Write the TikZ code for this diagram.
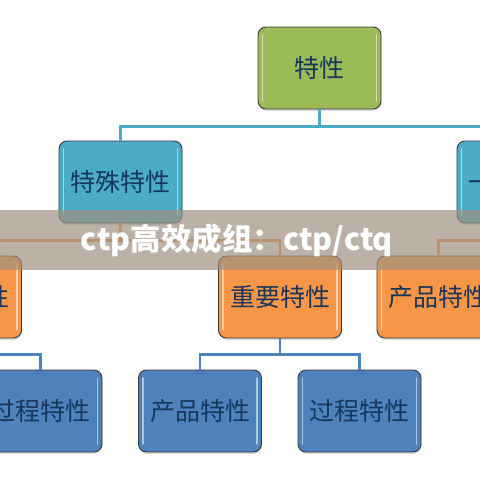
\documentclass[tikz,border=0pt]{standalone}
\usepackage{fontspec}
\newfontfamily\cjk{Noto Sans CJK SC}
\usetikzlibrary{shadows}
\definecolor{cgreen}{HTML}{9BBB59}
\definecolor{ccyan}{HTML}{4BACC6}
\definecolor{corange}{HTML}{F79646}
\definecolor{cblue}{HTML}{4F81BD}
\definecolor{cline}{HTML}{3A3A3A}
\definecolor{cnavy}{HTML}{17375E}
\definecolor{cbanner}{RGB}{160,145,130}
\tikzset{
  box/.style={draw=cline, line width=0.9pt, rounded corners=8pt,
    minimum width=123pt, minimum height=82pt, inner sep=0pt,
    text=cnavy, font=\cjk\fontsize{25}{28}\selectfont,
    drop shadow={opacity=0.25, shadow xshift=0.5pt, shadow yshift=-2pt},
    path picture={
      \draw[white, opacity=0.55, line width=1.6pt, line cap=round]
        ([shift={(4.5pt,-8pt)}]path picture bounding box.north west) --
        ([shift={(4.5pt,8pt)}]path picture bounding box.south west);
      \draw[white, opacity=0.55, line width=1.6pt, line cap=round]
        ([shift={(-4.5pt,-8pt)}]path picture bounding box.north east) --
        ([shift={(-4.5pt,8pt)}]path picture bounding box.south east);
    }},
  gbox/.style={box, fill=cgreen},
  cbox/.style={box, fill=ccyan},
  obox/.style={box, fill=corange},
  bbox/.style={box, fill=cblue},
  conn/.style={line width=2.2pt},
  bannertext/.style={text=white, font=\cjk\bfseries\fontsize{30.5}{33}\selectfont, inner sep=0pt}
}
\begin{document}
\begin{tikzpicture}[x=1pt,y=-1pt]
\useasboundingbox (0,0) rectangle (480,480);
\clip (0,0) rectangle (480,480);
\fill[white] (0,0) rectangle (480,480);

% coordinates for off-canvas ends
\coordinate (l3d) at (598,256);
\coordinate (l4x) at (-120,370);

% nodes
\node[gbox] (top) at (319.5,68) {特性};
\node[cbox] (l2a) at (120.5,182) {特殊特性};
\node[cbox] (l2b) at (518.5,182) {一般特性};
\node[obox] (l3a) at (-40,297) {关键特性};
\node[obox] (l3b) at (280,297) {重要特性};
\node[obox] (l3c) at (438.5,297) {产品特性};
\node[bbox] (l4a) at (40.5,411) {过程特性};
\node[bbox] (l4b) at (200,411) {产品特性};
\node[bbox] (l4c) at (359.5,411) {过程特性};

% connectors
\draw[conn, ccyan] (top.south) -- ++(0,17) -| (l2a.north);
\draw[conn, ccyan] (top.south) -- ++(0,17) -| (l2b.north);
\draw[conn, corange] (l2a.south) -- ++(0,17) -| (l3a.north);
\draw[conn, corange] (l2a.south) -- ++(0,17) -| (l3b.north);
\draw[conn, corange] (l2b.south) -- ++(0,17) -| (l3c.north);
\draw[conn, corange] (l2b.south) -- ++(0,17) -| (l3d);
\draw[conn, cblue] (l3a.south) -- ++(0,16) -| (l4a.north);
\draw[conn, cblue] (l3a.south) -- ++(0,16) -| (l4x);
\draw[conn, cblue] (l3b.south) -- ++(0,16) -| (l4b.north);
\draw[conn, cblue] (l3b.south) -- ++(0,16) -| (l4c.north);

% banner
\fill[cbanner, opacity=0.7] (0,210) rectangle (480,270);
\node[bannertext] (title) at (237,240) {ctp高效成组：ctp/ctq};
\end{tikzpicture}
\end{document}
